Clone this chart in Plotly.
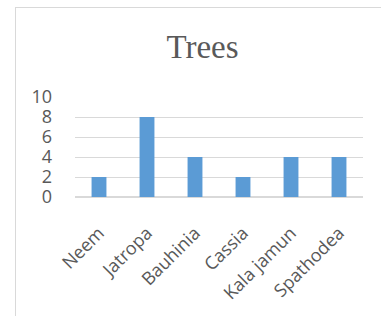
import plotly.graph_objects as go

categories = ["Neem", "Jatropa", "Bauhinia", "Cassia", "Kala jamun", "Spathodea"]
values = [2, 8, 4, 2, 4, 4]
y_ticks = [0, 2, 4, 6, 8, 10]

W, H = 381, 316
L, R, T, B = 75, 18, 97, 119
pw, ph = W - L - R, H - T - B

def px_x(px):
    return (px - L) / pw

def px_y(py):
    return (H - B - py) / ph

fig = go.Figure(go.Bar(x=categories, y=values, marker_color="#5b9bd5",
                       marker_line_width=0))

fig.update_layout(
    width=W, height=H,
    margin=dict(l=L, r=R, t=T, b=B, pad=0, autoexpand=False),
    paper_bgcolor="white", plot_bgcolor="white",
    bargap=0.69,
    showlegend=False,
    title=dict(text="Trees", x=202.5 / W, xanchor="center", xref="container",
               y=1 - 46 / H, yanchor="middle", yref="container",
               font=dict(family="Liberation Serif", size=33, color="#595959")),
    font=dict(family="Open Sans", size=18, color="#595959"),
    xaxis=dict(tickangle=-45, showgrid=False, showline=False, zeroline=False,
               ticks="", ticklabelstandoff=21, automargin=False,
               tickfont=dict(family="Open Sans", size=18, color="#595959")),
    yaxis=dict(range=[0, 10], tickvals=y_ticks, showgrid=True, gridcolor="#d9d9d9",
               gridwidth=1, zeroline=True, zerolinecolor="#d9d9d9", zerolinewidth=1.5,
               showline=False, ticks="", ticklabelstandoff=22, automargin=False,
               tickfont=dict(family="Open Sans", size=18, color="#595959")),
    shapes=[
        dict(type="line", xref="paper", yref="paper", x0=px_x(15), x1=px_x(420),
             y0=px_y(7.5), y1=px_y(7.5), line=dict(color="#d9d9d9", width=1)),
        dict(type="line", xref="paper", yref="paper", x0=px_x(15.5), x1=px_x(15.5),
             y0=px_y(7.5), y1=px_y(340), line=dict(color="#d9d9d9", width=1)),
    ],
)

fig.write_html("out.html", config={"displayModeBar": False},
               post_script="document.body.style.margin='0';document.body.style.overflow='hidden';")
